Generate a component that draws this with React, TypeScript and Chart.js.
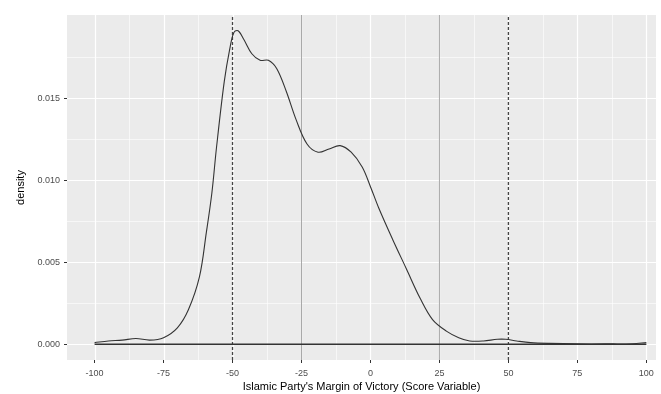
import React, { useEffect, useRef } from "react";
import { Chart, registerables } from "chart.js";

Chart.register(...registerables);

const densityX = [-100, -95, -90, -85, -80, -75, -70, -66, -62, -59.5, -57.5, -55.8, -53, -51, -49.5, -48, -46, -43, -40, -37, -34, -30.5, -27, -23, -19, -15, -11, -7, -3, 0, 3, 8, 13, 18, 22.5, 27.5, 32, 36, 41, 46, 49, 53, 58, 65, 75, 85, 95, 100];
const densityY = [0.0001, 0.0002, 0.00025, 0.00035, 0.00025, 0.0004, 0.001, 0.0021, 0.0041, 0.0068, 0.0092, 0.012, 0.016, 0.018, 0.019, 0.0191, 0.0186, 0.0177, 0.0173, 0.0173, 0.0168, 0.0154, 0.0137, 0.0122, 0.0117, 0.0119, 0.0121, 0.0117, 0.0108, 0.0096, 0.0083, 0.0064, 0.0046, 0.0028, 0.0015, 0.0008, 0.0004, 0.0002, 0.0002, 0.0003, 0.0003, 0.0002, 0.0001, 0.00005, 0.00002, 0.00002, 0.00003, 0.0001];
const xTicks = [-100, -75, -50, -25, 0, 25, 50, 75, 100];
const yTicks = [0, 0.005, 0.01, 0.015];
const dashedLines = [-50, 50];
const solidLines = [-25, 25];
const baselineRange = [-100, 100];
const xLimits = [-110, 103.5];
const yLimits = [-0.00096, 0.02006];
const xTitle = "Islamic Party's Margin of Victory (Score Variable)";
const yTitle = "density";

const panelPlugin = {
  id: "panel",
  beforeDraw(chart: any) {
    const { ctx, chartArea: a, scales } = chart;
    const xs = scales.x;
    const ys = scales.y;
    ctx.save();
    ctx.fillStyle = "#EBEBEB";
    ctx.fillRect(a.left, a.top, a.right - a.left, a.bottom - a.top);
    ctx.strokeStyle = "#FFFFFF";
    ctx.lineWidth = 0.6;
    for (let i = 0; i < xTicks.length - 1; i++) {
      const v = (xTicks[i] + xTicks[i + 1]) / 2;
      const p = Math.round(xs.getPixelForValue(v)) + 0.5;
      ctx.beginPath(); ctx.moveTo(p, a.top); ctx.lineTo(p, a.bottom); ctx.stroke();
    }
    for (let i = 0; i < yTicks.length; i++) {
      const v = yTicks[i] + 0.0025;
      const p = Math.round(ys.getPixelForValue(v)) + 0.5;
      if (p > a.top) { ctx.beginPath(); ctx.moveTo(a.left, p); ctx.lineTo(a.right, p); ctx.stroke(); }
    }
    ctx.lineWidth = 1.2;
    xTicks.forEach((v) => {
      const p = Math.round(xs.getPixelForValue(v)) + 0.5;
      ctx.beginPath(); ctx.moveTo(p, a.top); ctx.lineTo(p, a.bottom); ctx.stroke();
    });
    yTicks.forEach((v) => {
      const p = Math.round(ys.getPixelForValue(v)) + 0.5;
      ctx.beginPath(); ctx.moveTo(a.left, p); ctx.lineTo(a.right, p); ctx.stroke();
    });
    ctx.restore();
  },
};

export default function App() {
  const ref = useRef<HTMLCanvasElement>(null);
  useEffect(() => {
    if (!ref.current) return;
    const curve = densityX.map((x, i) => ({ x, y: densityY[i] }));
    const vline = (v: number) => [{ x: v, y: yLimits[0] }, { x: v, y: yLimits[1] }];
    const datasets: any[] = [
      {
        data: curve, borderColor: "#333333", borderWidth: 1.1, pointRadius: 0,
        tension: 0.35, fill: false,
      },
      {
        data: baselineRange.map((x) => ({ x, y: 0 })), borderColor: "#333333", borderWidth: 1.4, pointRadius: 0,
      },
    ];
    solidLines.forEach((v) => datasets.push({ data: vline(v), borderColor: "#A8A8A8", borderWidth: 1, pointRadius: 0 }));
    dashedLines.forEach((v) => datasets.push({ data: vline(v), borderColor: "#444444", borderWidth: 1.3, borderDash: [3, 2], pointRadius: 0 }));
    const tickFont = { family: "'Liberation Sans', Arial, sans-serif", size: 9 };
    const titleFont = { family: "'Liberation Sans', Arial, sans-serif", size: 11 };
    const chart = new Chart(ref.current, {
      type: "line",
      data: { datasets },
      options: {
        animation: false,
        responsive: false,
        layout: { padding: { top: 15, right: 5, left: 0, bottom: 0 } },
        plugins: { legend: { display: false }, tooltip: { enabled: false } },
        scales: {
          x: {
            type: "linear", min: xLimits[0], max: xLimits[1],
            afterBuildTicks: (s: any) => { s.ticks = xTicks.map((v) => ({ value: v })); },
            afterFit: (s: any) => { s.height = 34; },
            ticks: { color: "#4D4D4D", font: tickFont, padding: 5, maxRotation: 0, autoSkip: false, callback: (v: any) => String(v) },
            grid: { drawOnChartArea: false, drawTicks: true, tickLength: 3, tickColor: "#333333" },
            border: { display: false },
            title: { display: true, text: xTitle, color: "#000000", font: titleFont, padding: { top: 2, bottom: 0 } },
          },
          y: {
            type: "linear", min: yLimits[0], max: yLimits[1],
            afterBuildTicks: (s: any) => { s.ticks = yTicks.map((v) => ({ value: v })); },
            afterFit: (s: any) => { s.width = 67; },
            ticks: { color: "#4D4D4D", font: tickFont, padding: 4, autoSkip: false, callback: (v: any) => Number(v).toFixed(3) },
            grid: { drawOnChartArea: false, drawTicks: true, tickLength: 3, tickColor: "#333333" },
            border: { display: false },
            title: { display: true, text: yTitle, color: "#000000", font: titleFont, padding: { top: 14, bottom: 0 } },
          },
        },
      },
      plugins: [panelPlugin],
    } as any);
    return () => chart.destroy();
  }, []);
  return (
    <div style={{ position: "fixed", left: 0, top: 0, width: 661, height: 394, background: "#FFFFFF" }}>
      <canvas ref={ref} width={661} height={394} style={{ width: 661, height: 394 }} />
    </div>
  );
}
